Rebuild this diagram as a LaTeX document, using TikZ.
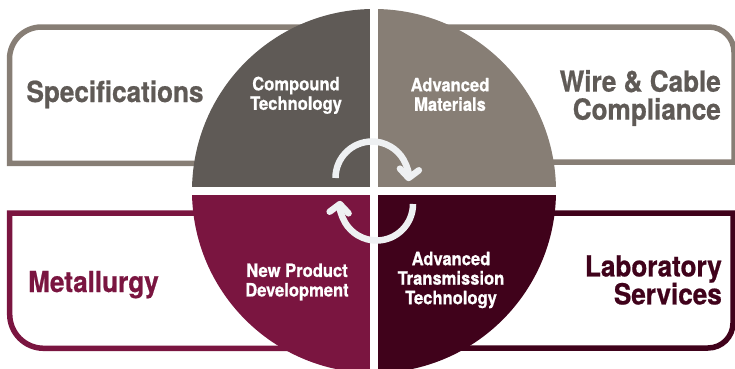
\documentclass[tikz,border=0pt]{standalone}
\usepackage{fontspec}
\setmainfont{TeX Gyre Heros}[FakeStretch=0.9, BoldFeatures={FakeBold=0.7}]
\usetikzlibrary{arrows.meta}

\definecolor{stonegrey}{HTML}{5F5A56}
\definecolor{taupe}{HTML}{877E75}
\definecolor{wine}{HTML}{7A1540}
\definecolor{darkwine}{HTML}{40021B}
\definecolor{arrowgrey}{HTML}{EEF0F2}

\tikzset{
  areabox/.style={line width=5.5pt},
  bigtext/.style={font=\bfseries\fontsize{29}{28}\selectfont, inner sep=0pt},
  quadtext/.style={font=\bfseries\fontsize{18.4}{19.5}\selectfont, text=white, align=center, inner sep=0pt},
  cyclearrow/.style={arrowgrey, line width=6.5pt, -{Straight Barb[length=8.5pt,width=19pt,round]}},
}

\begin{document}
\begin{tikzpicture}[x=1pt,y=1pt]
  \clip (0,0) rectangle (735,368);

  % outer boxes
  \draw[areabox, taupe] (374,204.7) -- (9.5,204.7) -- (9.5,309) arc[start angle=180, end angle=90, radius=32] -- (374,341);
  \draw[areabox, taupe] (374,206) -- (734,206) -- (734,316) arc[start angle=0, end angle=90, radius=25] -- (374,341);
  \draw[areabox, wine] (374,155) -- (9.7,155) -- (9.7,53.7) arc[start angle=180, end angle=270, radius=34] -- (374,19.7);
  \draw[areabox, darkwine] (374,155) -- (733,155) -- (733,45) arc[start angle=0, end angle=-90, radius=25] -- (374,20);

  % the four quarters
  \coordinate (hub) at (374,177);
  \fill[stonegrey] (hub) -- ++(-182,0) arc[start angle=180, end angle=90, radius=182] -- cycle;
  \fill[taupe] (hub) -- ++(0,182) arc[start angle=90, end angle=0, radius=182] -- cycle;
  \fill[darkwine] (hub) -- ++(182,0) arc[start angle=0, end angle=-90, radius=182] -- cycle;
  \fill[wine] (hub) -- ++(0,-182) arc[start angle=270, end angle=180, radius=182] -- cycle;
  \draw[white, line width=8pt] (hub) ++(0,-184) -- ++(0,368);
  \draw[white, line width=8pt] (hub) ++(-184,0) -- ++(368,0);

  % cycle arrows
  \coordinate (upturn) at (372,190);
  \coordinate (downturn) at (376.5,164);
  \draw[cyclearrow] (upturn) ++(180:36.5) arc[start angle=180, end angle=-5, radius=36.5];
  \draw[cyclearrow] (downturn) ++(0:36.5) arc[start angle=0, end angle=-185, radius=36.5];

  % labels
  \node[bigtext, text=stonegrey, anchor=base] (spec) at (115,266) {Specifications};
  \node[bigtext, text=stonegrey, align=right, anchor=east] (wire) at (721,270) {Wire \& Cable\\Compliance};
  \node[bigtext, text=wine, anchor=base] (metal) at (93.5,76) {Metallurgy};
  \node[bigtext, text=darkwine, align=right, anchor=east] (lab) at (722,88) {Laboratory\\Services};

  \node[quadtext] (compound) at (296,272.7) {Compound\\Technology};
  \node[quadtext] (materials) at (450,273.5) {Advanced\\Materials};
  \node[quadtext] (newprod) at (297,86) {New Product\\Development};
  \node[quadtext] (transm) at (451,88) {Advanced\\Transmission\\Technology};
\end{tikzpicture}
\end{document}
